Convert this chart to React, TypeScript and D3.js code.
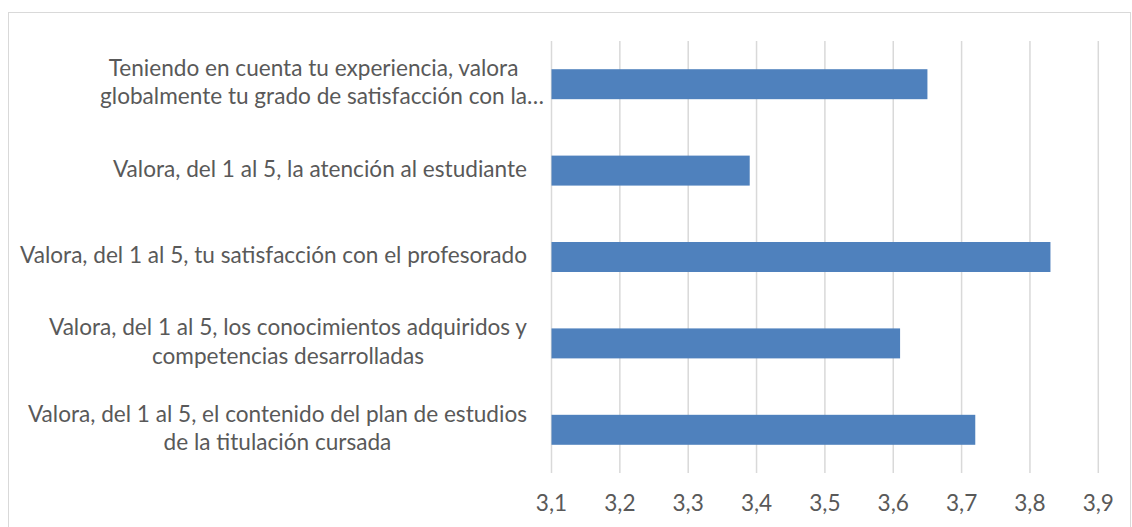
import React, { useEffect, useRef } from "react";
import * as d3 from "d3";

// ---- data ----
const categories: string[] = [
  "Teniendo en cuenta tu experiencia, valora\nglobalmente tu grado de satisfacción con la…",
  "Valora, del 1 al 5, la atención al estudiante",
  "Valora, del 1 al 5, tu satisfacción con el profesorado",
  "Valora, del 1 al 5, los conocimientos adquiridos y\ncompetencias desarrolladas",
  "Valora, del 1 al 5, el contenido del plan de estudios\nde la titulación cursada",
];
const values: number[] = [3.65, 3.39, 3.83, 3.61, 3.72];
const tickValues: number[] = [3.1, 3.2, 3.3, 3.4, 3.5, 3.6, 3.7, 3.8, 3.9];
const tickLabels: string[] = ["3,1", "3,2", "3,3", "3,4", "3,5", "3,6", "3,7", "3,8", "3,9"];

// ---- layout ----
const W = 1132;
const H = 527;
const plot = { left: 551.5, right: 1098.3, top: 41, bottom: 473 };
const FONT = "Lato, 'Open Sans', sans-serif";
const FONT_SIZE = 22.6;
const TEXT = "#595959";
const GRID = "#d9d9d9";
const BAR = "#4f81bd";
const LABEL_RIGHT = 527;
const LINE_GAP = 28.5;

export default function App() {
  const ref = useRef<SVGSVGElement | null>(null);

  useEffect(() => {
    const svg = d3.select(ref.current);
    svg.selectAll("*").remove();

    const x = d3.scaleLinear().domain([3.1, 3.9]).range([plot.left, plot.right]);
    const y = d3
      .scaleBand<number>()
      .domain(categories.map((_, i) => i))
      .range([plot.top, plot.bottom])
      .paddingInner(0.653)
      .paddingOuter(0.3265);

    // chart border
    svg
      .append("rect")
      .attr("x", 8.5)
      .attr("y", 12.5)
      .attr("width", 1122)
      .attr("height", 530)
      .attr("fill", "#fff")
      .attr("stroke", GRID)
      .attr("stroke-width", 1);

    // gridlines
    svg
      .append("g")
      .selectAll("line")
      .data(tickValues)
      .join("line")
      .attr("x1", (d) => x(d))
      .attr("x2", (d) => x(d))
      .attr("y1", plot.top)
      .attr("y2", plot.bottom)
      .attr("stroke", GRID)
      .attr("stroke-width", 1.5);

    // bars
    svg
      .append("g")
      .selectAll("rect")
      .data(values)
      .join("rect")
      .attr("x", x(3.1))
      .attr("y", (_, i) => y(i)!)
      .attr("width", (d) => x(d) - x(3.1))
      .attr("height", y.bandwidth())
      .attr("fill", BAR);

    // tick labels
    svg
      .append("g")
      .selectAll("text")
      .data(tickValues)
      .join("text")
      .attr("x", (d) => x(d))
      .attr("y", 511)
      .attr("text-anchor", "middle")
      .attr("font-family", FONT)
      .attr("font-size", FONT_SIZE)
      .attr("fill", TEXT)
      .text((_, i) => tickLabels[i]);

    // category labels
    const lg = svg.append("g");
    categories.forEach((cat, i) => {
      const lines = cat.split("\n");
      const cy = y(i)! + y.bandwidth() / 2;
      const n = lines.length;
      const texts = lines.map((ln, j) =>
        lg
          .append("text")
          .attr("font-family", FONT)
          .attr("font-size", FONT_SIZE)
          .attr("fill", TEXT)
          .attr("y", cy + (j - (n - 1) / 2) * LINE_GAP + 6)
          .text(ln.replace(/…$/, ""))
      );
      const widths = texts.map((t) => (t.node() as SVGTextElement).getComputedTextLength());
      const blockW = Math.max(...widths);
      const center = LABEL_RIGHT - blockW / 2;
      texts.forEach((t, j) => {
        t.attr("x", center - widths[j] / 2).text(lines[j]);
      });
    });
  }, []);

  return (
    <div style={{ position: "absolute", left: 0, top: 0, width: W, height: H, background: "#fff" }}>
      <svg ref={ref} width={W} height={H} style={{ display: "block" }} />
    </div>
  );
}
